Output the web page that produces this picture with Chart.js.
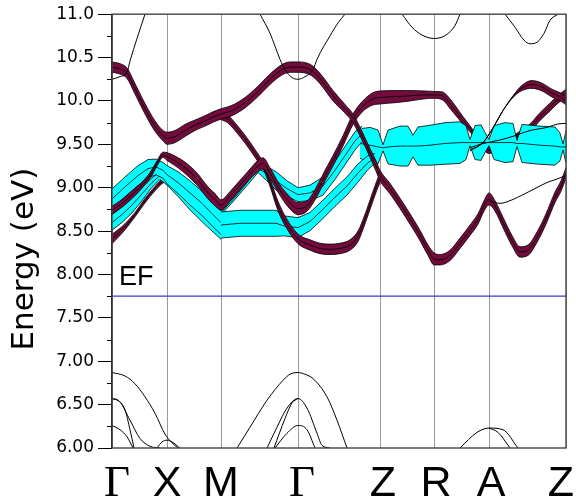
<!DOCTYPE html>
<html>
<head>
<meta charset="utf-8">
<script src="https://cdn.jsdelivr.net/npm/chart.js@4.4.1/dist/chart.umd.min.js"></script>
<style>
  html, body { margin: 0; background: #fff; }
  #wrap { width: 576px; height: 501px; }
</style>
</head>
<body>
<div id="wrap"><canvas id="bands"></canvas></div>
<script>
// ─── Path / axes ───────────────────────────────────────
const kTicks  = [0, 55, 109, 186, 268, 322, 377, 454];
const kLabels = ['Γ', 'X', 'M', 'Γ', 'Z', 'R', 'A', 'Z'];
const yTicks  = [6, 6.5, 7, 7.5, 8, 8.5, 9, 9.5, 10, 10.5, 11];
const yTickLabels = ['6.00', '6.50', '7.00', '7.50', '8.00', '8.50', '9.00', '9.50', '10.0', '10.5', '11.0'];
const EF = 7.75;

// ─── Fat bands (k, energy, half width in eV) ───────────
// maroon
const mb1K = [0,8,15,23,33,43,51,55,63,73,83,93,102,109,120,133,146,158,170,178,186,194,201,210,221,233,241,250,258,264,268,278,288,298,308,316,322,328,338,348,358,366,372,377,383,391,400,408,416,425,434,443,449,454];
const mb1E = [10.39,10.37,10.32,10.14,9.91,9.71,9.60,9.57,9.59,9.66,9.72,9.77,9.82,9.85,9.89,9.98,10.11,10.25,10.36,10.39,10.39,10.38,10.34,10.23,10.06,9.91,9.80,9.60,9.40,9.25,9.14,8.99,8.82,8.64,8.45,8.28,8.18,8.17,8.22,8.36,8.51,8.64,8.79,8.87,8.79,8.60,8.39,8.26,8.28,8.43,8.64,8.89,9.02,9.17];
const mb1W = [.06,.06,.06,.06,.06,.06,.06,.07,.07,.07,.06,.06,.06,.06,.06,.06,.06,.06,.06,.06,.06,.06,.06,.06,.06,.05,.05,.05,.05,.06,.06,.06,.06,.06,.06,.06,.07,.06,.06,.06,.06,.06,.06,.07,.06,.06,.06,.06,.06,.06,.06,.06,.06,.06];

const mb2K = [0,10,20,30,38,45,51,55,63,73,85,96,104,109,118,128,138,145,151,158,167,176,186,195,204,213,221,231,241,250,260,268,283,298,313,322,330,340,350];
const mb2E = [8.74,8.82,8.92,9.03,9.14,9.28,9.38,9.36,9.31,9.23,9.10,8.94,8.85,8.80,8.90,9.03,9.16,9.24,9.28,9.17,8.99,8.85,8.76,8.79,8.94,9.14,9.31,9.54,9.79,9.93,10.02,10.04,10.05,10.06,10.07,10.07,10.06,9.94,9.79];
const mb2W = [.045,.045,.045,.035,.035,.03,.03,.045,.055,.065,.07,.07,.07,.06,.055,.055,.055,.065,.065,.06,.06,.07,.07,.06,.06,.06,.06,.06,.06,.06,.07,.075,.07,.06,.045,.04,.045,.055,.045];

const mb2bK = [350,358,368,377,388,400,410,418,428,438,446,454];
const mb2bE = [9.79,9.68,9.52,9.43,9.48,9.56,9.62,9.69,9.82,9.93,10.02,10.09];
const mb2bW = [.045,.035,.035,.035,.035,.035,.045,.045,.045,.045,.045,.045];

const mbPK = [358,371,381,391,401,410,420,430,440,448,454];
const mbPE = [9.43,9.52,9.69,9.89,10.05,10.15,10.19,10.16,10.09,10.05,10.00];
const mbPW = [0,0,0,0,.01,.03,.045,.045,.045,.045,.045];

const mb3K = [0,6,13,23,33,43,51,55,68,83,98,109];
const mb3E = [8.41,8.47,8.55,8.69,8.85,8.99,9.08,9.10,9.00,8.79,8.62,8.53];
const mb3W = [.055,.045,.035,.025,.025,.025,.025,.025,.025,.025,.025,.025];

const mb4K = [109,116,124,133,141,148,152,158,166,174,186,198,208,218,228,238,246,253,260,266,268];
const mb4E = [9.83,9.79,9.69,9.56,9.43,9.31,9.24,9.06,8.79,8.60,8.41,8.34,8.30,8.29,8.30,8.34,8.44,8.64,8.87,9.06,9.11];
const mb4W = [.045,.045,.045,.045,.045,.045,.045,.045,.055,.055,.055,.06,.06,.06,.06,.06,.06,.055,.055,.055,.055];

// cyan
const caK = [0,13,26,36,44,51,55,66,78,90,101,109];
const caE = [8.87,9.01,9.14,9.22,9.24,9.20,9.15,9.06,8.94,8.82,8.69,8.60];
const caW = [.115,.115,.115,.105,.09,.09,.105,.125,.14,.14,.14,.14];

const cbK = [0,10,20,30,40,48,55,66,78,93,109];
const cbE = [8.60,8.69,8.80,8.93,9.06,9.14,9.10,8.99,8.85,8.68,8.51];
const cbW = [.09,.09,.09,.08,.055,.045,.07,.09,.105,.105,.105];

const cfK = [109,128,148,164,172,186,198,210,223,235,246,256,263];
const cfE = [8.57,8.59,8.59,8.59,8.56,8.54,8.61,8.74,8.89,9.02,9.17,9.29,9.34];
const cfW = [.15,.15,.15,.15,.115,.115,.105,.105,.105,.105,.105,.08,.055];

const c2K = [109,123,138,146,154,164,175,186,198,211,223,233,243,250];
const c2E = [8.71,8.89,9.10,9.22,9.17,9.08,8.99,8.92,8.94,9.02,9.20,9.37,9.54,9.62];
const c2W = [.025,.025,.035,.045,.08,.105,.09,.08,.09,.105,.105,.105,.105,.09];

const cwK = [248,258,266,271,276,288,296,301,306,318,333,348,354,358,363,369,373,377,382,393,401,405,410,428,443,448,451,454];
const cwE = [9.51,9.49,9.47,9.46,9.47,9.48,9.48,9.48,9.48,9.49,9.51,9.52,9.52,9.52,9.52,9.52,9.52,9.52,9.52,9.52,9.52,9.51,9.51,9.49,9.48,9.47,9.47,9.47];
const cwW = [.17,.205,.195,.035,.195,.23,.23,.125,.22,.23,.24,.24,.195,.035,.195,.205,.115,.035,.195,.23,.22,.035,.22,.22,.22,.16,.035,.185];

// ─── Thin bands (k, energy) ────────────────────────────
const t1K = [0,8,15,18,25,33];               const t1E = [10.25,10.28,10.33,10.46,10.72,11.0];
const t2K = [148,158,168,173,180,186,193,201,205,218,226,233];
const t2E = [11.0,10.78,10.48,10.36,10.27,10.25,10.28,10.36,10.48,10.75,10.90,11.0];
const t3K = [290,300,310,322,334,343,348];   const t3E = [11.0,10.85,10.76,10.72,10.76,10.87,11.0];
const t4K = [393,403,412,418,424,432,438,446]; const t4E = [11.0,10.85,10.70,10.66,10.67,10.78,10.93,11.0];
const tlK = [377,388,400,411,423,435,445,454]; const tlE = [8.85,8.82,8.86,8.92,8.99,9.06,9.10,9.14];
const taK = [358,371,388,403,418,433,450,454]; const taE = [9.46,9.51,9.55,9.60,9.66,9.69,9.74,9.74];
const b1K = [0,13,23,33,43,53,60,66];        const b1E = [6.87,6.83,6.74,6.59,6.40,6.16,6.06,6.0];
const b2K = [0,6,13,18,22];                  const b2E = [6.57,6.55,6.44,6.21,6.0];
const b2bK = [0,8,18,28,38,48];              const b2bE = [6.57,6.53,6.32,6.11,6.02,6.0];
const b3K = [0,8,15,21];                     const b3E = [6.26,6.21,6.13,6.0];
const bxK = [45,50,55,60,68];                const bxE = [6.0,6.07,6.09,6.07,6.0];
const b4K = [125,138,155,171,178,186,193,201,215,225,235];
const b4E = [6.0,6.24,6.55,6.78,6.85,6.87,6.85,6.80,6.59,6.32,6.0];
const b5K = [155,165,175,186,195,205,210,218]; const b5E = [6.0,6.24,6.46,6.57,6.46,6.17,6.03,6.0];
const b5bK = [162,173,180,186];              const b5bE = [6.0,6.34,6.52,6.57];
const b6K = [163,175,186,195,203];           const b6E = [6.0,6.17,6.26,6.21,6.0];
const b7K = [348,365,377,391,406];           const b7E = [6.0,6.18,6.23,6.21,6.0];
const b7bK = [377,386,398];                  const b7bE = [6.23,6.18,6.0];

// ─── Styles ────────────────────────────────────────────
const MAROON = '#720c3d';
const CYAN   = '#00ffff';
const SMOOTH = { cubicInterpolationMode: 'monotone' };
const STRAIGHT = { cubicInterpolationMode: 'default', tension: 0 };

const datasets = [];

// centre line first, then lower edge, then upper edge filled down to the lower
function fatBand(k, e, w, color, order, curve) {
    const base = { borderColor: '#000', pointRadius: 0, borderWidth: 0.8, order, fill: false, ...curve };
    datasets.push({ ...base, data: k.map((x, i) => ({ x, y: e[i] })) });
    datasets.push({ ...base, data: k.map((x, i) => ({ x, y: e[i] - w[i] })) });
    datasets.push({ ...base, data: k.map((x, i) => ({ x, y: e[i] + w[i] })),
                    fill: '-1', backgroundColor: color });
}
function thinBand(k, e) {
    datasets.push({ borderColor: '#000', pointRadius: 0, borderWidth: 1, order: 0, fill: false, ...SMOOTH,
                    data: k.map((x, i) => ({ x, y: e[i] })) });
}

// order: 0 thin on top, 1 maroon over cyan, 2 cyan, 3 maroon under cyan
fatBand(mb1K, mb1E, mb1W, MAROON, 1, SMOOTH);
fatBand(mb2K, mb2E, mb2W, MAROON, 1, SMOOTH);
fatBand(mb4K, mb4E, mb4W, MAROON, 1, SMOOTH);
fatBand(mbPK, mbPE, mbPW, MAROON, 1, SMOOTH);
fatBand(caK, caE, caW, CYAN, 2, STRAIGHT);
fatBand(cbK, cbE, cbW, CYAN, 2, STRAIGHT);
fatBand(cfK, cfE, cfW, CYAN, 2, STRAIGHT);
fatBand(c2K, c2E, c2W, CYAN, 2, STRAIGHT);
fatBand(cwK, cwE, cwW, CYAN, 2, STRAIGHT);
fatBand(mb2bK, mb2bE, mb2bW, MAROON, 3, SMOOTH);
fatBand(mb3K, mb3E, mb3W, MAROON, 3, SMOOTH);

[[t1K, t1E], [t2K, t2E], [t3K, t3E], [t4K, t4E], [tlK, tlE], [taK, taE],
 [b1K, b1E], [b2K, b2E], [b2bK, b2bE], [b3K, b3E], [bxK, bxE], [b4K, b4E],
 [b5K, b5E], [b5bK, b5bE], [b6K, b6E], [b7K, b7E], [b7bK, b7bE]].forEach(([k, e]) => thinBand(k, e));

// Fermi level
datasets.push({ data: [{ x: kTicks[0], y: EF }, { x: kTicks[kTicks.length - 1], y: EF }],
                borderColor: '#3a3ad6', borderWidth: 1.2, pointRadius: 0, order: 0, fill: false });

// ─── Decorations: minor ticks, frame, path labels, EF, y title ─
const nudge = [5, 0, 0, 4, 3, 2, 2, -5];
const decor = {
    id: 'decor',
    afterDraw(chart) {
        const { ctx, chartArea: a, scales: { x, y } } = chart;
        ctx.save();
        ctx.strokeStyle = '#000';
        ctx.lineWidth = 1;
        for (let v = 6.25; v < 11; v += 0.5) {
            const py = Math.round(y.getPixelForValue(v)) + 0.5;
            ctx.beginPath(); ctx.moveTo(a.left - 5, py); ctx.lineTo(a.left, py); ctx.stroke();
        }
        ctx.strokeStyle = '#444';
        ctx.lineWidth = 1.4;
        ctx.strokeRect(a.left, a.top, a.right - a.left, a.bottom - a.top);

        ctx.fillStyle = '#000';
        ctx.textAlign = 'center';
        ctx.textBaseline = 'alphabetic';
        kLabels.forEach((t, i) => {
            ctx.font = t === 'Γ' ? '45px "Liberation Serif"' : '43px "Liberation Sans"';
            ctx.fillText(t, x.getPixelForValue(kTicks[i]) + nudge[i], 496);
        });

        ctx.textAlign = 'left';
        ctx.font = '27px "Liberation Sans"';
        ctx.fillText('EF', a.left + 7, y.getPixelForValue(EF) - 11);

        ctx.translate(33, (a.top + a.bottom) / 2 + 28);
        ctx.rotate(-Math.PI / 2);
        ctx.textAlign = 'center';
        ctx.font = '31px "DejaVu Sans"';
        ctx.fillText('Energy (eV)', 0, 0);
        ctx.restore();
    }
};

new Chart(document.getElementById('bands').getContext('2d'), {
    type: 'line',
    data: { datasets },
    plugins: [decor],
    options: {
        responsive: true,
        maintainAspectRatio: false,
        animation: false,
        events: [],
        layout: { padding: { top: 13, right: 10, left: 0, bottom: 0 } },
        plugins: { legend: { display: false }, tooltip: { enabled: false } },
        scales: {
            x: {
                type: 'linear', min: 0, max: kTicks[kTicks.length - 1],
                afterBuildTicks: s => { s.ticks = kTicks.map(v => ({ value: v })); },
                afterFit: s => { s.height = 53; },
                ticks: { display: false },
                grid: { color: '#9a9a9a', lineWidth: 1, drawTicks: false },
                border: { display: false }
            },
            y: {
                type: 'linear', min: 6, max: 11,
                afterBuildTicks: s => { s.ticks = yTicks.map(v => ({ value: v })); },
                afterFit: s => { s.width = 112; },
                ticks: {
                    callback: (v, i) => yTickLabels[i],
                    color: '#000', padding: 4,
                    font: { family: "'DejaVu Sans'", size: 17 }
                },
                grid: { drawOnChartArea: false, tickLength: 14, color: '#000' },
                border: { color: '#000', width: 1.2 }
            }
        }
    }
});
</script>
</body>
</html>
